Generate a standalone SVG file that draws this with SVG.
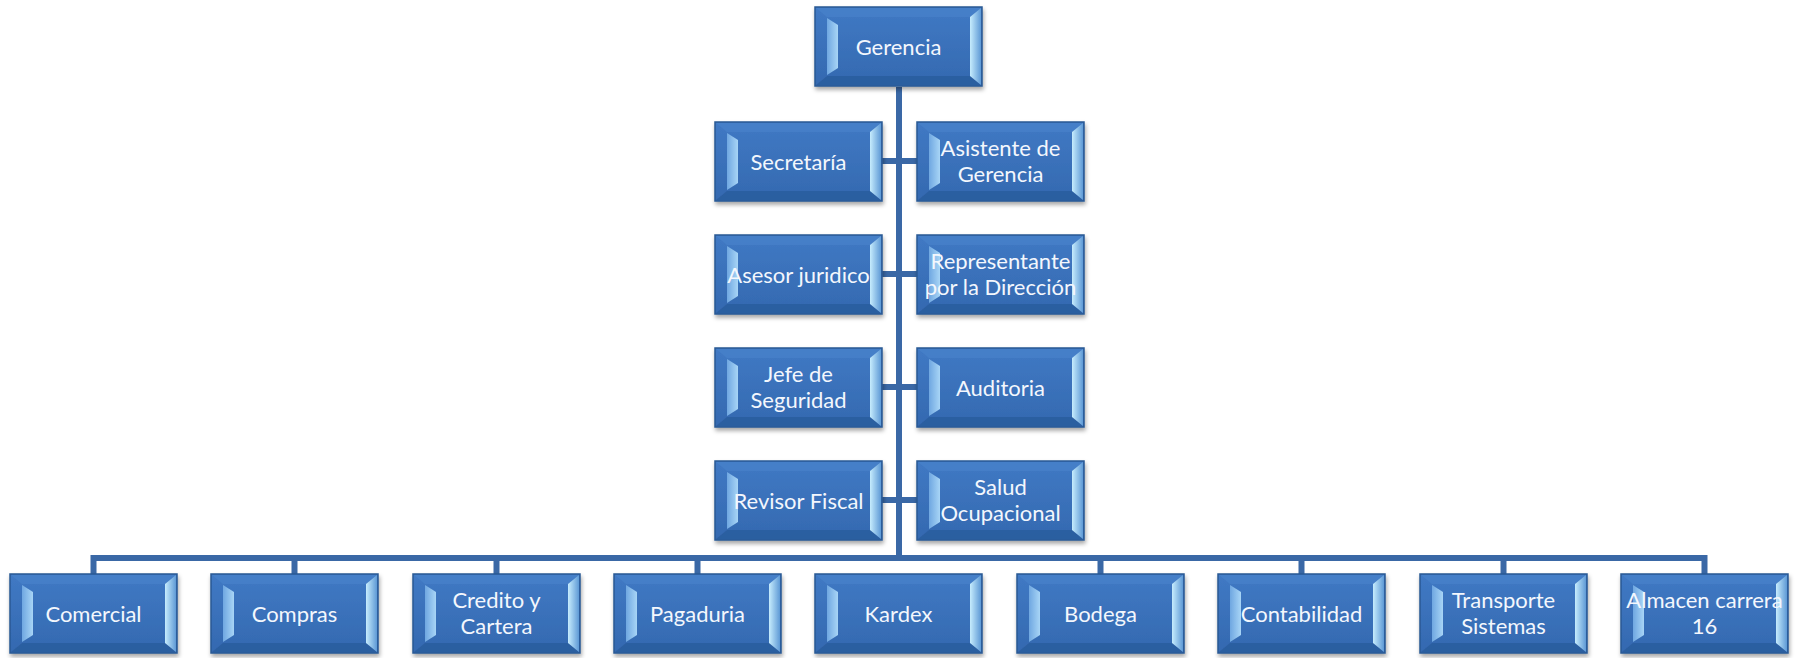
<svg xmlns="http://www.w3.org/2000/svg" xmlns:xlink="http://www.w3.org/1999/xlink" width="1801" height="658" viewBox="0 0 1801 658">
<style>
.lbl{font-family:Lato,"Liberation Sans",sans-serif;font-size:22px;fill:#f3f7fd;text-anchor:middle}
.conn{fill:none;stroke:#3a68a6;stroke-width:6;stroke-linejoin:miter}
</style>
<defs>
<filter id="sh" x="-10%" y="-15%" width="125%" height="140%">
<feDropShadow dx="1" dy="3" stdDeviation="2" flood-color="#000" flood-opacity="0.35"/>
</filter>
<linearGradient id="face" x1="0" y1="0" x2="0" y2="1">
<stop offset="0" stop-color="#4079c4"/>
<stop offset="1" stop-color="#3469b0"/>
</linearGradient>
<linearGradient id="lb" x1="0" y1="0" x2="1" y2="0">
<stop offset="0" stop-color="#6fa7e1"/>
<stop offset="1" stop-color="#a8d5f6"/>
</linearGradient>
<linearGradient id="rb" x1="0" y1="0" x2="1" y2="0">
<stop offset="0" stop-color="#c6ecfd"/>
<stop offset="1" stop-color="#5f9ad6"/>
</linearGradient>
<g id="bx">
<rect x="0" y="0" width="167" height="79" fill="url(#face)" stroke="#2a5894" stroke-width="1.5"/>
<polygon points="1,1 166,1 155,10 12,10" fill="#4a84cc" opacity="0.6"/>
<polygon points="1,78 166,78 155,69 12,69" fill="#2a5b9c" opacity="0.8"/>
<polygon points="12,11 23,18 23,61 12,68" fill="url(#lb)"/>
<polygon points="155,10 166,1 166,78 155,69" fill="url(#rb)"/>
</g>
</defs>

<g id="connectors">
<path class="conn" d="M899,87 V558"/>
<path class="conn" d="M882,161 H917 M882,274 H917 M882,387 H917 M882,500 H917"/>
<path class="conn" d="M93.5,574 V558 H1704.5 V574"/>
<path class="conn" d="M294.5,558 V574 M496.5,558 V574 M697.5,558 V574 M1100.5,558 V574 M1301.5,558 V574 M1503.5,558 V574"/>
</g>

<g id="n-gerencia"><use href="#bx" x="815" y="7" filter="url(#sh)"/><text class="lbl" x="898.5" y="54.5">Gerencia</text></g>

<g id="n-secretaria"><use href="#bx" x="715" y="122" filter="url(#sh)"/><text class="lbl" x="798.5" y="169.5">Secretaría</text></g>
<g id="n-asistente"><use href="#bx" x="917" y="122" filter="url(#sh)"/><text class="lbl" x="1000.5" y="156">Asistente de</text><text class="lbl" x="1000.5" y="181.5">Gerencia</text></g>

<g id="n-asesor"><use href="#bx" x="715" y="235" filter="url(#sh)"/><text class="lbl" x="798.5" y="282.5">Asesor juridico</text></g>
<g id="n-representante"><use href="#bx" x="917" y="235" filter="url(#sh)"/><text class="lbl" x="1000.5" y="269">Representante</text><text class="lbl" x="1000.5" y="294.5">por la Dirección</text></g>

<g id="n-jefe"><use href="#bx" x="715" y="348" filter="url(#sh)"/><text class="lbl" x="798.5" y="382">Jefe de</text><text class="lbl" x="798.5" y="407.5">Seguridad</text></g>
<g id="n-auditoria"><use href="#bx" x="917" y="348" filter="url(#sh)"/><text class="lbl" x="1000.5" y="395.5">Auditoria</text></g>

<g id="n-revisor"><use href="#bx" x="715" y="461" filter="url(#sh)"/><text class="lbl" x="798.5" y="508.5">Revisor Fiscal</text></g>
<g id="n-salud"><use href="#bx" x="917" y="461" filter="url(#sh)"/><text class="lbl" x="1000.5" y="495">Salud</text><text class="lbl" x="1000.5" y="520.5">Ocupacional</text></g>

<g id="n-comercial"><use href="#bx" x="10" y="574" filter="url(#sh)"/><text class="lbl" x="93.5" y="621.5">Comercial</text></g>
<g id="n-compras"><use href="#bx" x="211" y="574" filter="url(#sh)"/><text class="lbl" x="294.5" y="621.5">Compras</text></g>
<g id="n-credito"><use href="#bx" x="413" y="574" filter="url(#sh)"/><text class="lbl" x="496.5" y="608">Credito y</text><text class="lbl" x="496.5" y="633.5">Cartera</text></g>
<g id="n-pagaduria"><use href="#bx" x="614" y="574" filter="url(#sh)"/><text class="lbl" x="697.5" y="621.5">Pagaduria</text></g>
<g id="n-kardex"><use href="#bx" x="815" y="574" filter="url(#sh)"/><text class="lbl" x="898.5" y="621.5">Kardex</text></g>
<g id="n-bodega"><use href="#bx" x="1017" y="574" filter="url(#sh)"/><text class="lbl" x="1100.5" y="621.5">Bodega</text></g>
<g id="n-contabilidad"><use href="#bx" x="1218" y="574" filter="url(#sh)"/><text class="lbl" x="1301.5" y="621.5">Contabilidad</text></g>
<g id="n-transporte"><use href="#bx" x="1420" y="574" filter="url(#sh)"/><text class="lbl" x="1503.5" y="608">Transporte</text><text class="lbl" x="1503.5" y="633.5">Sistemas</text></g>
<g id="n-almacen"><use href="#bx" x="1621" y="574" filter="url(#sh)"/><text class="lbl" x="1704.5" y="608">Almacen carrera</text><text class="lbl" x="1704.5" y="633.5">16</text></g>
</svg>
